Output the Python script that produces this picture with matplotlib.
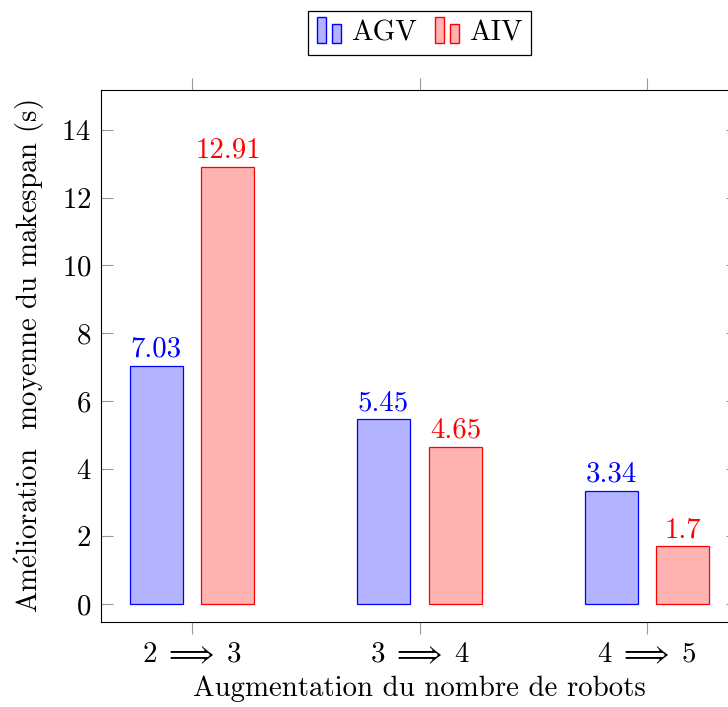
import matplotlib
matplotlib.use("Agg")
import matplotlib.pyplot as plt
from matplotlib.patches import Rectangle
from matplotlib.legend_handler import HandlerBase
from matplotlib.container import BarContainer
import numpy as np

# data
groups = [r"$2 \;\Longrightarrow\; 3$", r"$3 \;\Longrightarrow\; 4$", r"$4 \;\Longrightarrow\; 5$"]
agv = [7.03, 5.45, 3.34]
aiv = [12.91, 4.65, 1.7]
agv_labels = ["7.03", "5.45", "3.34"]
aiv_labels = ["12.91", "4.65", "1.7"]

FS = 20.8
plt.rcParams["font.family"] = "serif"
plt.rcParams["font.serif"] = ["cmr10", "DejaVu Serif"]
plt.rcParams["mathtext.fontset"] = "cm"
plt.rcParams["axes.formatter.use_mathtext"] = True
plt.rcParams["font.size"] = FS


class TwoBarHandler(HandlerBase):
    # pgfplots-style legend image: two small bars
    def create_artists(self, legend, orig_handle, xdescent, ydescent,
                       width, height, fontsize, trans):
        p = orig_handle.patches[0]
        fc = p.get_facecolor()
        ec = p.get_edgecolor()
        w = width * 0.3
        r1 = Rectangle((-xdescent + width * 0.02, -ydescent - height * 0.15), w, height * 1.3,
                       facecolor=fc, edgecolor=ec, lw=1.0, transform=trans)
        r2 = Rectangle((-xdescent + width * 0.55, -ydescent - height * 0.15), w, height * 0.95,
                       facecolor=fc, edgecolor=ec, lw=1.0, transform=trans)
        return [r1, r2]


fig = plt.figure(figsize=(7.28, 7.07), dpi=100)
ax = fig.add_axes([101 / 728, 1 - 622 / 707, 637 / 728, 532 / 707])

x = np.arange(len(groups))
w = 0.233
off = 0.158
agv_fc, agv_ec = "#b3b3ff", "#0000ff"
aiv_fc, aiv_ec = "#ffb3b3", "#ff0000"

b1 = ax.bar(x - off, agv, w, facecolor=agv_fc, edgecolor=agv_ec, lw=0.9, label="AGV")
b2 = ax.bar(x + off, aiv, w, facecolor=aiv_fc, edgecolor=aiv_ec, lw=0.9, label="AIV")

for xi, v, s in zip(x - off, agv, agv_labels):
    ax.annotate(s, (xi, v), xytext=(0, 6.5), textcoords="offset points",
                ha="center", va="baseline", color=agv_ec, fontsize=FS)
for xi, v, s in zip(x + off, aiv, aiv_labels):
    ax.annotate(s, (xi, v), xytext=(0, 6.5), textcoords="offset points",
                ha="center", va="baseline", color=aiv_ec, fontsize=FS)

ax.set_xlim(-0.4, 2.4)
ax.set_ylim(-0.53, 15.18)
ax.set_xticks(x)
ax.set_xticklabels(groups)
ax.set_yticks(np.arange(0, 15, 2))

for s in ax.spines.values():
    s.set_linewidth(0.8)
    s.set_color("black")
ax.tick_params(axis="y", which="major", direction="in", left=True, right=True,
               length=8.5, width=0.8, color="#999999", pad=7, labelsize=FS)
ax.tick_params(axis="x", which="major", direction="out", bottom=True, top=True,
               length=8.5, width=0.8, color="#999999", pad=6, labelsize=FS)

ax.set_xlabel("Augmentation du nombre de robots", fontsize=FS, labelpad=5)
ax.set_ylabel(r"Am$\acute{\mathrm{e}}$lioration  moyenne du makespan (s)",
              fontsize=FS, labelpad=10)

leg = fig.legend(handles=[b1, b2], labels=["AGV", "AIV"], loc="center",
                 bbox_to_anchor=(419.5 / 728, 1 - 33 / 707), ncol=2,
                 handler_map={BarContainer: TwoBarHandler()},
                 handlelength=1.0, handletextpad=0.2, columnspacing=0.6,
                 borderpad=0.3, fancybox=False, framealpha=1, fontsize=FS)
leg.get_frame().set_edgecolor("black")
leg.get_frame().set_linewidth(0.9)

fig.savefig("out.png", dpi=100)
